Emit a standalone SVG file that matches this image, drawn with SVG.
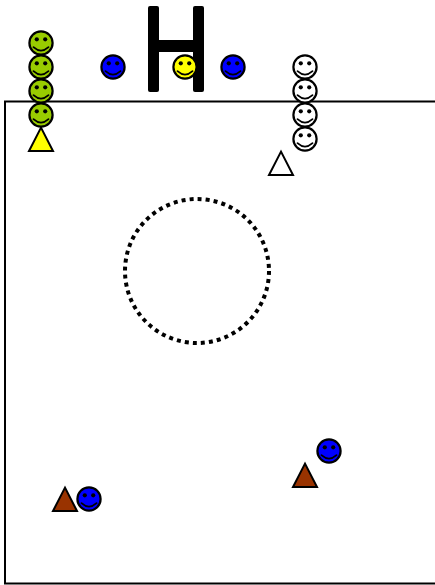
<svg xmlns="http://www.w3.org/2000/svg" width="435" height="585" viewBox="0 0 435 585">
<style>
.h{stroke:#000;stroke-width:2.200}
.e{fill:#000}
.m{stroke:#000;stroke-width:1.800;fill:none;stroke-linecap:round}
.t{stroke:#000;stroke-width:2;stroke-linejoin:miter}
.g{fill:#99cc00}.b{fill:#0000ff}.y{fill:#ffff00}.w{fill:#fff}.r{fill:#993300}
</style>
<defs>
<g id="face">
<circle class="e" cx="-4.200" cy="-3.700" r="2.100"/>
<circle class="e" cx="4.200" cy="-3.700" r="2.100"/>
<path class="m" d="M-7.500,4.200Q0,11 7.500,4.200"/>
</g>
</defs>
<rect id="field" x="5" y="101.500" width="440" height="482" fill="#fff" stroke="#000" stroke-width="2"/>
<circle id="ring" cx="197" cy="271" r="72" fill="none" stroke="#000" stroke-width="4" stroke-dasharray="4 4.080"/>
<g id="goal" fill="#000"><rect x="148" y="6" width="11" height="86" rx="2"/><rect x="193" y="6" width="11" height="86" rx="2"/><rect x="155" y="40" width="42" height="12"/></g>
<g id="tri-yellow"><polygon class="t y" points="41,127.600 29,151 53,151"/></g>
<g id="g1"><circle class="h g" cx="41" cy="43" r="11.600"/><use href="#face" x="41" y="43"/></g>
<g id="g2"><circle class="h g" cx="41" cy="67" r="11.600"/><use href="#face" x="41" y="67"/></g>
<g id="g3"><circle class="h g" cx="41" cy="91" r="11.600"/><use href="#face" x="41" y="91"/></g>
<g id="g4"><circle class="h g" cx="41" cy="115" r="11.600"/><use href="#face" x="41" y="115"/></g>
<g id="b1"><circle class="h b" cx="113" cy="67" r="11.600"/><use href="#face" x="113" y="67"/></g>
<g id="y1"><circle class="h y" cx="185" cy="67" r="11.600"/><use href="#face" x="185" y="67"/></g>
<g id="b2"><circle class="h b" cx="233" cy="67" r="11.600"/><use href="#face" x="233" y="67"/></g>
<g id="w1"><circle class="h w" cx="305" cy="67" r="11.600"/><use href="#face" x="305" y="67"/></g>
<g id="w2"><circle class="h w" cx="305" cy="91" r="11.600"/><use href="#face" x="305" y="91"/></g>
<g id="w3"><circle class="h w" cx="305" cy="115" r="11.600"/><use href="#face" x="305" y="115"/></g>
<g id="w4"><circle class="h w" cx="305" cy="139" r="11.600"/><use href="#face" x="305" y="139"/></g>
<g id="tri-white"><polygon class="t w" points="281,151.600 269,175 293,175"/></g>
<g id="b3"><circle class="h b" cx="329" cy="451" r="11.600"/><use href="#face" x="329" y="451"/></g>
<g id="tri-r1"><polygon class="t r" points="305,463.600 293,487 317,487"/></g>
<g id="tri-r2"><polygon class="t r" points="65,487.600 53,511 77,511"/></g>
<g id="b4"><circle class="h b" cx="89" cy="499" r="11.600"/><use href="#face" x="89" y="499"/></g>
</svg>
